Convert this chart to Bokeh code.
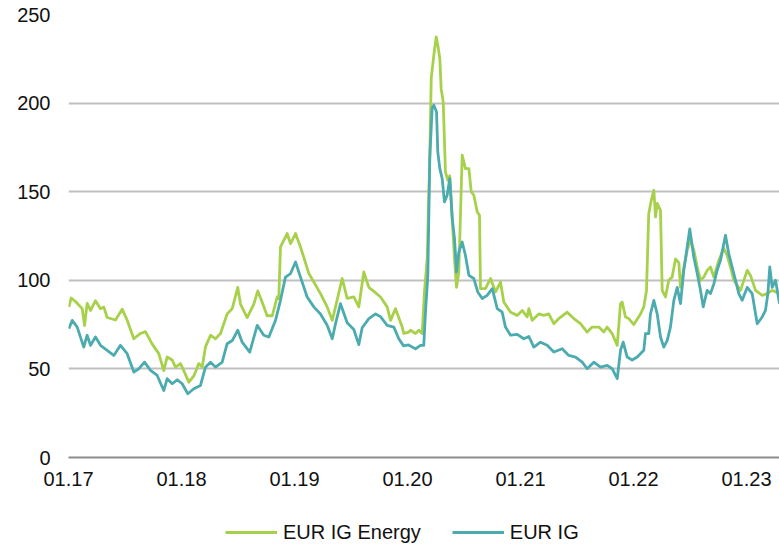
import numpy as np
from bokeh.plotting import figure
from bokeh.layouts import column
from bokeh.models import FixedTicker, Legend, LegendItem, Range1d
from bokeh.embed import file_html
from bokeh.resources import INLINE

# ---- data (decimal years, basis points) ----
energy_x = [2017.003, 2017.024, 2017.062, 2017.121, 2017.142, 2017.165, 2017.195, 2017.239, 2017.283, 2017.312,
            2017.342, 2017.416, 2017.475, 2017.519, 2017.578, 2017.637, 2017.681, 2017.741, 2017.799, 2017.843,
            2017.873, 2017.918, 2017.947, 2017.991, 2018.020, 2018.065, 2018.109, 2018.153, 2018.183, 2018.212,
            2018.257, 2018.301, 2018.345, 2018.404, 2018.449, 2018.498, 2018.522, 2018.581, 2018.640, 2018.675,
            2018.714, 2018.758, 2018.803, 2018.847, 2018.861, 2018.876, 2018.935, 2018.965, 2019.009, 2019.053,
            2019.082, 2019.127, 2019.171, 2019.230, 2019.289, 2019.334, 2019.363, 2019.422, 2019.466, 2019.525,
            2019.569, 2019.613, 2019.658, 2019.717, 2019.761, 2019.820, 2019.850, 2019.894, 2019.953, 2019.967,
            2020.012, 2020.027, 2020.071, 2020.100, 2020.130, 2020.150, 2020.174, 2020.197, 2020.210, 2020.233,
            2020.254, 2020.268, 2020.286, 2020.298, 2020.316, 2020.336, 2020.357, 2020.374, 2020.396, 2020.416,
            2020.434, 2020.454, 2020.484, 2020.513, 2020.543, 2020.564, 2020.587, 2020.617, 2020.637, 2020.646,
            2020.690, 2020.735, 2020.779, 2020.823, 2020.852, 2020.912, 2020.971, 2021.015, 2021.059, 2021.074,
            2021.104, 2021.162, 2021.206, 2021.250, 2021.295, 2021.339, 2021.413, 2021.472, 2021.531, 2021.590,
            2021.634, 2021.693, 2021.737, 2021.767, 2021.811, 2021.856, 2021.885, 2021.900, 2021.929, 2021.958,
            2022.003, 2022.062, 2022.091, 2022.115, 2022.135, 2022.157, 2022.180, 2022.195, 2022.210, 2022.239,
            2022.254, 2022.283, 2022.312, 2022.342, 2022.372, 2022.401, 2022.416, 2022.445, 2022.475, 2022.504,
            2022.534, 2022.564, 2022.593, 2022.622, 2022.652, 2022.681, 2022.711, 2022.755, 2022.799, 2022.829,
            2022.858, 2022.888, 2022.947, 2023.006, 2023.035, 2023.080, 2023.139, 2023.183, 2023.227, 2023.292]
energy_y = [85, 90, 88, 84, 74.5, 87, 83, 88.5, 84, 85,
            79, 77.6, 83.7, 77.5, 67, 70, 71, 64, 58.6, 49,
            56.7, 55, 51, 53, 49, 42.5, 46, 53, 51, 62.4,
            69, 67, 70, 81, 84, 96, 86.6, 79, 86.6, 94,
            87.6, 80, 80, 90.6, 89.6, 118.8, 126.4, 120.7, 126.4, 118.8,
            113, 103.8, 99, 92.5, 85, 77.4, 85, 101, 89.8, 90.6,
            85, 104.7, 96, 93, 90.6, 85, 77.4, 84, 73.6, 70,
            70.8, 71.8, 70, 71.8, 70, 93.4, 112, 168.8, 214, 227,
            237.4, 232.8, 225, 208, 200.7, 161, 156.4, 159, 134.8, 112,
            96, 104.6, 170.6, 163, 163, 150, 148, 138.6, 136.7, 95.3,
            95.3, 101, 93.4, 99, 87.8, 82, 80.2, 83, 79.3, 84,
            77.4, 81, 80.2, 81, 75.5, 78.4, 82, 78.4, 75.5, 70.8,
            73.6, 73.6, 70.8, 73.6, 69.9, 63.3, 86.8, 87.7, 79.3, 78.4,
            75, 81, 85, 94.3, 137.7, 145, 150.8, 135.8, 143.4, 139.5,
            94.3, 90.6, 100, 101.8, 112, 110, 96, 106.6, 117, 122.6,
            117, 107.5, 100, 101.8, 105.6, 107.5, 101.8, 111.3, 118, 114,
            107.5, 100, 94.3, 105.6, 102.8, 94.3, 91.5, 92.5, 94.3, 92.5]

ig_x = [2017.003, 2017.033, 2017.077, 2017.135, 2017.165, 2017.195, 2017.239, 2017.283, 2017.342, 2017.401,
        2017.460, 2017.519, 2017.578, 2017.622, 2017.673, 2017.726, 2017.785, 2017.843, 2017.873, 2017.918,
        2017.962, 2018.006, 2018.056, 2018.109, 2018.168, 2018.212, 2018.257, 2018.301, 2018.360, 2018.404,
        2018.449, 2018.498, 2018.537, 2018.604, 2018.670, 2018.728, 2018.773, 2018.832, 2018.876, 2018.920,
        2018.965, 2019.009, 2019.053, 2019.112, 2019.171, 2019.230, 2019.289, 2019.334, 2019.363, 2019.407,
        2019.466, 2019.525, 2019.569, 2019.599, 2019.658, 2019.717, 2019.761, 2019.820, 2019.879, 2019.923,
        2019.965, 2020.009, 2020.071, 2020.115, 2020.144, 2020.159, 2020.180, 2020.197, 2020.218, 2020.233,
        2020.257, 2020.268, 2020.286, 2020.307, 2020.327, 2020.351, 2020.374, 2020.396, 2020.416, 2020.434,
        2020.454, 2020.484, 2020.513, 2020.543, 2020.587, 2020.622, 2020.661, 2020.705, 2020.750, 2020.794,
        2020.838, 2020.867, 2020.912, 2020.971, 2021.029, 2021.074, 2021.118, 2021.177, 2021.236, 2021.295,
        2021.369, 2021.427, 2021.487, 2021.546, 2021.590, 2021.649, 2021.708, 2021.767, 2021.811, 2021.856,
        2021.885, 2021.909, 2021.944, 2021.988, 2022.033, 2022.091, 2022.106, 2022.135, 2022.150, 2022.180,
        2022.210, 2022.239, 2022.268, 2022.298, 2022.327, 2022.357, 2022.387, 2022.416, 2022.445, 2022.475,
        2022.498, 2022.534, 2022.564, 2022.593, 2022.617, 2022.652, 2022.681, 2022.711, 2022.740, 2022.770,
        2022.814, 2022.843, 2022.873, 2022.903, 2022.932, 2022.962, 2023.006, 2023.050, 2023.095, 2023.139,
        2023.168, 2023.189, 2023.206, 2023.227, 2023.257, 2023.292]
ig_y = [72.7, 77.4, 73.6, 62.3, 69, 63.3, 68, 63.3, 60.5, 57.6,
        63.3, 58.6, 48.2, 50.1, 53.8, 49.1, 46.3, 37.8, 44.5, 41.6,
        43.9, 41.6, 36, 38.8, 40.7, 51, 53.8, 51, 53.8, 64.2,
        66, 71.8, 65.1, 59.5, 74.6, 69, 68, 77.4, 88.7, 101.8,
        103.8, 110.3, 101.8, 90.6, 85, 81, 74.6, 67, 75.5, 86.8,
        76, 72.2, 63.7, 73.2, 78.4, 81, 79.5, 74.6, 73.6, 67,
        63, 63.5, 61.3, 63.3, 63.3, 82, 102.8, 168.8, 197, 198.8,
        195, 172.5, 163, 157.4, 144.2, 148, 157.4, 134.8, 123.5, 104.6,
        116, 121.6, 114, 102.8, 101, 93.4, 89.7, 91.5, 95.3, 84,
        82, 73.6, 69, 69.5, 67, 68.3, 62.3, 65.1, 63.3, 59.5,
        61.4, 57.6, 56.7, 53.8, 50.1, 53.8, 51, 52, 50.1, 44.5,
        60.5, 65.1, 56.7, 55, 56.7, 60.5, 69.9, 69.9, 81, 88.7,
        81, 68, 62.3, 66, 73.6, 88.7, 96, 86.8, 105.6, 118.8,
        129, 113, 103.8, 94.3, 85, 94.3, 92.5, 98, 105.6, 111.3,
        125.4, 115, 107.5, 100, 92.5, 88.7, 96, 92.5, 75.5, 79.3,
        83, 92.5, 107.5, 96, 100, 86.8]

x_ticks = [2017, 2018, 2019, 2020, 2021, 2022, 2023]
x_tick_labels = ["01.17", "01.18", "01.19", "01.20", "01.21", "01.22", "01.23"]
y_ticks = [0, 50, 100, 150, 200, 250]
series_names = ["EUR IG Energy", "EUR IG"]

GREEN = "#A7D14A"
TEAL = "#4BABAE"
FONT = "Liberation Sans"
LW = 2.8

p = figure(width=779, height=500, output_backend="svg", toolbar_location=None,
           x_range=Range1d(2017.0, 2023.292), y_range=Range1d(0, 250),
           min_border_left=68, min_border_right=0, min_border_top=14, min_border_bottom=43)
p.outline_line_color = None
p.background_fill_color = "white"
p.border_fill_color = "white"

p.line(energy_x, energy_y, line_color=GREEN, line_width=LW, line_join="round")
p.line(ig_x, ig_y, line_color=TEAL, line_width=LW, line_join="round")

# axes
p.xaxis.ticker = FixedTicker(ticks=x_ticks)
p.xaxis.major_label_overrides = {t: l for t, l in zip(x_ticks, x_tick_labels)}
p.yaxis.ticker = FixedTicker(ticks=y_ticks)
for ax in (p.xaxis[0], p.yaxis[0]):
    ax.major_tick_line_color = None
    ax.minor_tick_line_color = None
    ax.major_tick_out = 0
    ax.major_tick_in = 0
    ax.minor_tick_out = 0
    ax.major_label_text_font = FONT
    ax.major_label_text_font_size = "20px"
    ax.major_label_text_color = "#111111"
p.yaxis.axis_line_color = None
p.yaxis.major_label_standoff = 18
p.xaxis.axis_line_color = "#8C8C8C"
p.xaxis.axis_line_width = 2
p.xaxis.major_label_standoff = 14

p.xgrid.grid_line_color = None
p.ygrid.grid_line_color = "#C0C0C0"
p.ygrid.grid_line_width = 2

# legend strip below the chart (proxy renderers lie outside the visible range)
lg = figure(width=779, height=44, output_backend="svg", toolbar_location=None,
            x_axis_type=None, y_axis_type=None,
            x_range=Range1d(0, 1), y_range=Range1d(0, 1),
            min_border_left=0, min_border_right=0, min_border_top=0, min_border_bottom=0)
lg.grid.visible = False
lg.outline_line_color = None
lg.border_fill_color = "white"
l1 = lg.line([-5, -4], [-5, -5], line_color=GREEN, line_width=LW)
l2 = lg.line([-5, -4], [-5, -5], line_color=TEAL, line_width=LW)
legend = Legend(items=[LegendItem(label=series_names[0], renderers=[l1]),
                       LegendItem(label=series_names[1], renderers=[l2])],
                orientation="horizontal", location=(157, 0),
                glyph_width=52, glyph_height=24, label_standoff=6, spacing=31,
                label_text_font=FONT, label_text_font_size="20px", label_text_color="#111111",
                border_line_color=None, background_fill_alpha=0,
                margin=0, padding=0)
lg.add_layout(legend, "center")

layout = column(p, lg, spacing=0)
open("out.html", "w").write(file_html(layout, INLINE))
